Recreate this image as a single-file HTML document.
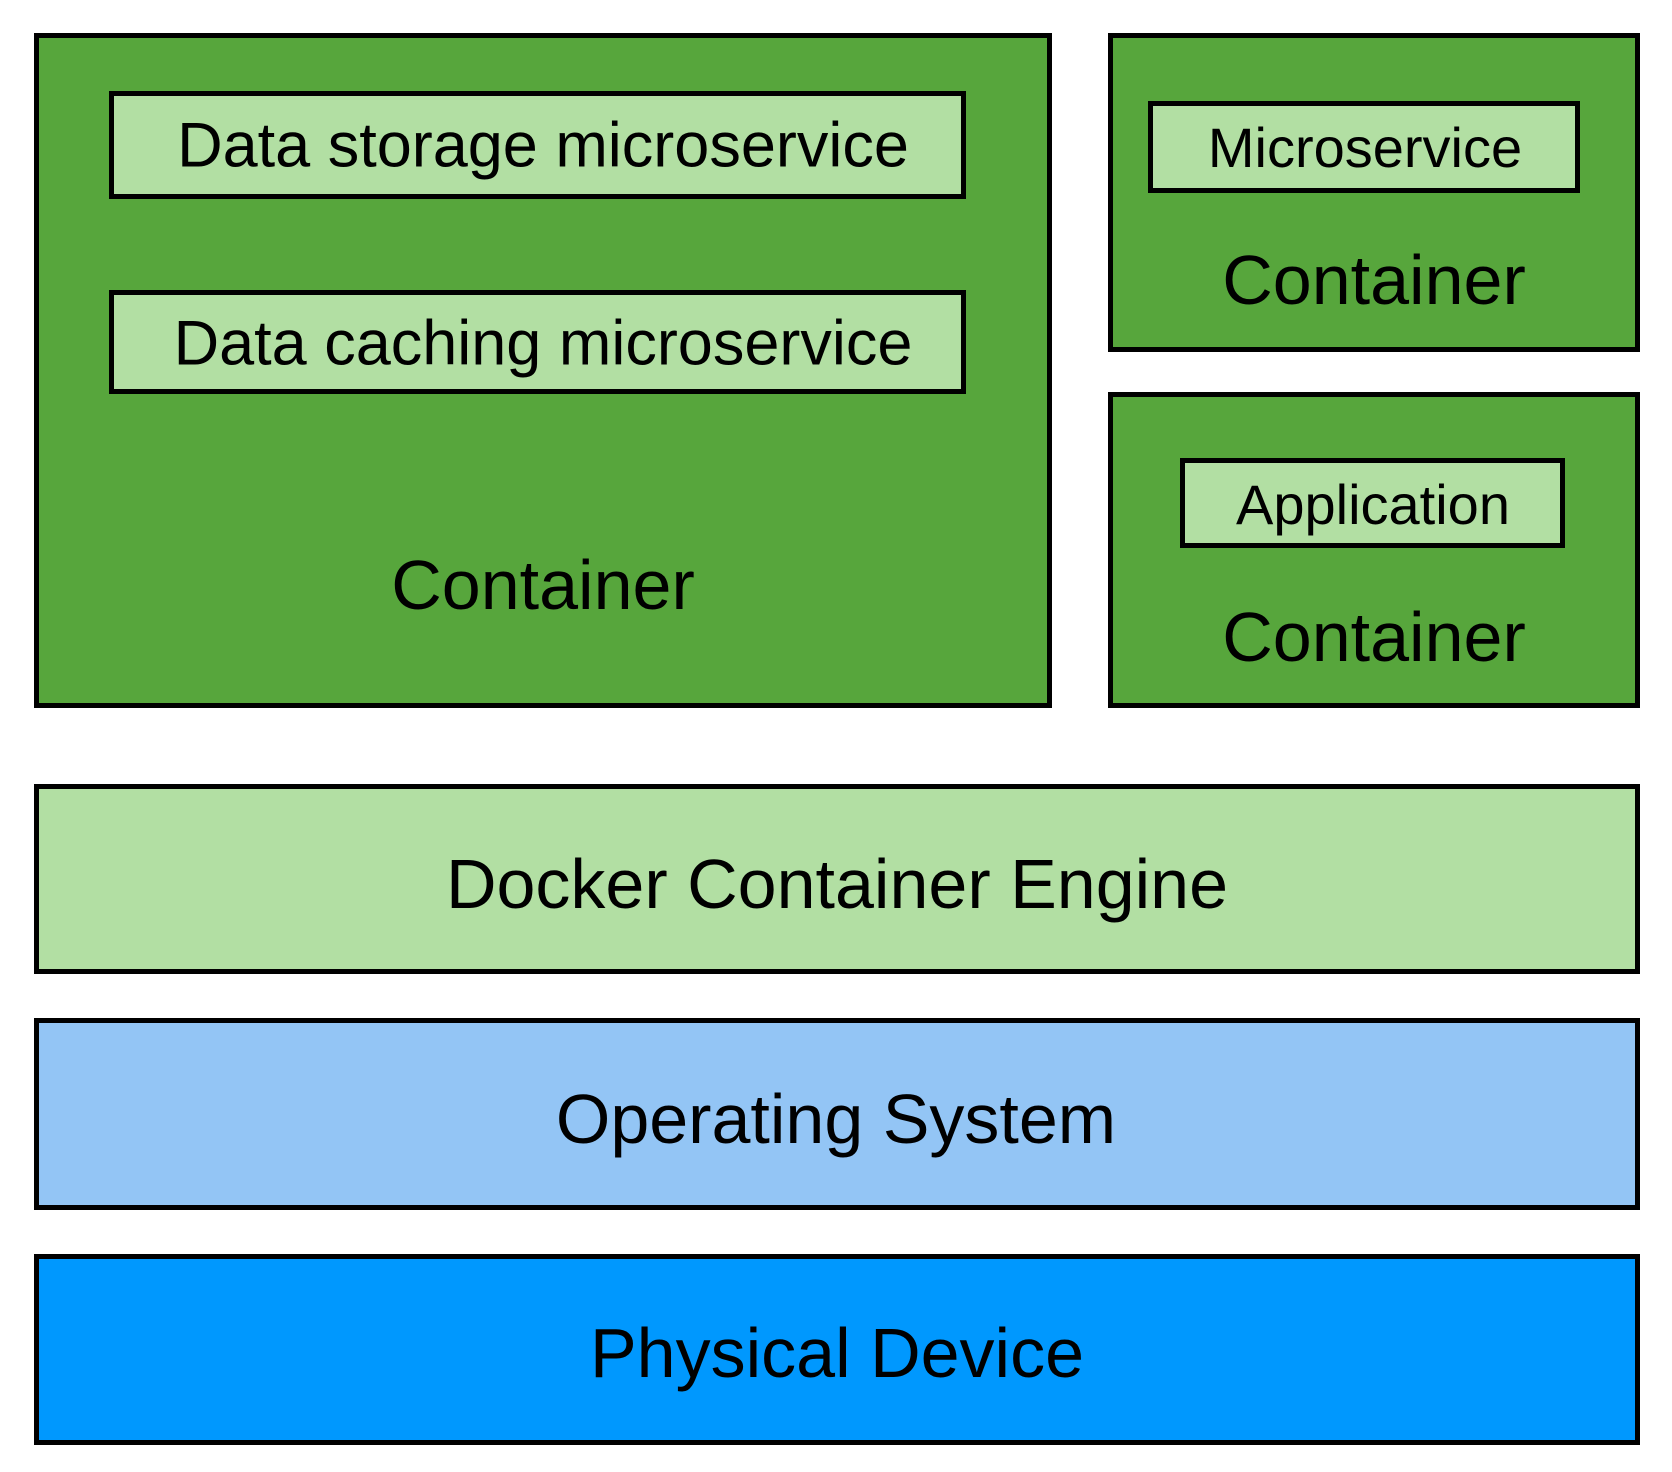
<!DOCTYPE html>
<html><head><meta charset="utf-8"><style>
body{margin:0;width:1672px;height:1472px;background:#fff;position:relative;overflow:hidden;font-family:"Liberation Sans",Arial,sans-serif;color:#000}
.b{position:absolute;box-sizing:border-box;border:5px solid #000}
.t{position:absolute;white-space:nowrap;text-align:center;transform:translate(-50%,-50%);line-height:1}
.g{background:#57a63c}.l{background:#b2dfa3}.o{background:#93c5f5}.p{background:#0098fe}
</style></head><body>
<div class="b g" style="left:34px;top:33px;width:1018px;height:675px"></div>
<div class="b l" style="left:109px;top:91px;width:857px;height:108px"></div>
<div class="b l" style="left:109px;top:290px;width:857px;height:104px"></div>
<div class="t" style="left:543px;top:146px;font-size:63px">Data storage microservice</div>
<div class="t" style="left:543px;top:344px;font-size:63px">Data caching microservice</div>
<div class="t" style="left:543px;top:585px;font-size:70px">Container</div>

<div class="b g" style="left:1108px;top:33px;width:532px;height:319px"></div>
<div class="b l" style="left:1148px;top:101px;width:432px;height:92px"></div>
<div class="t" style="left:1365px;top:148px;font-size:56px">Microservice</div>
<div class="t" style="left:1374px;top:280px;font-size:70px">Container</div>

<div class="b g" style="left:1108px;top:392px;width:532px;height:316px"></div>
<div class="b l" style="left:1180px;top:458px;width:385px;height:90px"></div>
<div class="t" style="left:1373px;top:505px;font-size:56px">Application</div>
<div class="t" style="left:1374px;top:637px;font-size:70px">Container</div>

<div class="b l" style="left:34px;top:784px;width:1606px;height:190px"></div>
<div class="t" style="left:837px;top:884px;font-size:70px">Docker Container Engine</div>
<div class="b o" style="left:34px;top:1018px;width:1606px;height:192px"></div>
<div class="t" style="left:836px;top:1119px;font-size:70px">Operating System</div>
<div class="b p" style="left:34px;top:1254px;width:1606px;height:191px"></div>
<div class="t" style="left:837px;top:1353px;font-size:70px">Physical Device</div>
</body></html>
